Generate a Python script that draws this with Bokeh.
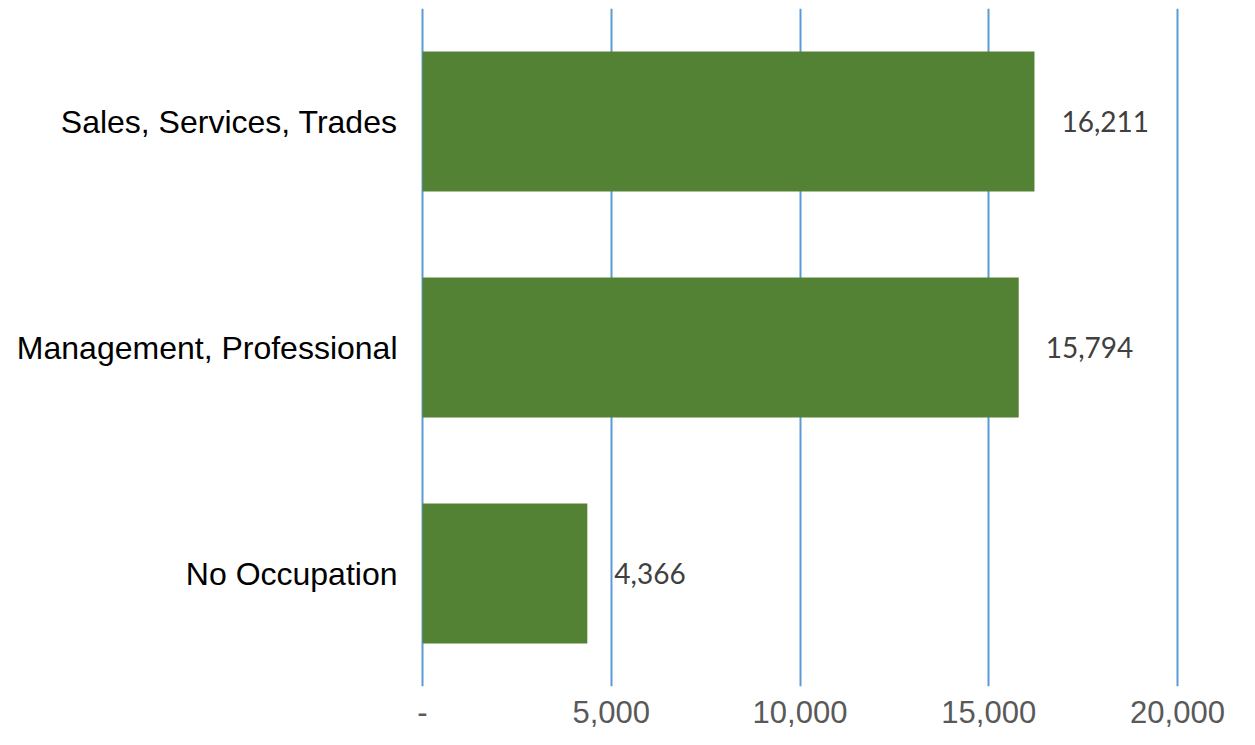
from bokeh.plotting import figure
from bokeh.models import ColumnDataSource, FactorRange, Range1d, FixedTicker
from bokeh.core.properties import value
from bokeh.embed import file_html
from bokeh.resources import INLINE

# Data (bottom to top)
categories = ["No Occupation", "Management, Professional", "Sales, Services, Trades"]
counts = [4366, 15794, 16211]
tick_values = [0, 5000, 10000, 15000, 20000]
tick_labels = ["-", "5,000", "10,000", "15,000", "20,000"]

labels = [f"{v:,}" for v in counts]
src = ColumnDataSource(dict(cat=categories, val=counts, lab=labels))

W, H = 1247, 737
left_border = 420
frame_bottom = 686
px_per_unit = 188.75 / 5000.0
x_start = -2 / px_per_unit
x_end = x_start + (W - left_border) / px_per_unit

p = figure(width=W, height=H, output_backend="svg", toolbar_location=None,
           y_range=FactorRange(factors=categories, range_padding=0),
           x_range=Range1d(x_start, x_end),
           min_border_left=left_border, min_border_right=0,
           min_border_top=8, min_border_bottom=H - frame_bottom)
p.background_fill_color = "white"
p.border_fill_color = "white"
p.outline_line_color = None

p.hbar(y="cat", right="val", left=0, height=0.62, source=src,
       fill_color="#548235", line_color=None)

p.text(x="val", y="cat", text="lab", source=src, x_offset=27,
       text_baseline="middle", text_align="left",
       text_font=value("Lato"), text_font_size="28px", text_color="#404040")

p.xaxis.ticker = FixedTicker(ticks=tick_values)
p.xaxis.major_label_overrides = {t: l for t, l in zip(tick_values, tick_labels)}
p.xaxis.axis_line_color = None
p.xaxis.major_tick_line_color = None
p.xaxis.minor_tick_line_color = None
p.xaxis.major_label_text_font = "Liberation Sans"
p.xaxis.major_label_text_font_size = "31px"
p.xaxis.major_label_text_color = "#595959"
p.xaxis.major_label_standoff = 8

p.yaxis.axis_line_color = None
p.yaxis.major_tick_line_color = None
p.yaxis.minor_tick_line_color = None
p.yaxis.major_label_text_font = "Liberation Sans"
p.yaxis.major_label_text_font_size = "32px"
p.yaxis.major_label_text_color = "black"
p.yaxis.major_label_standoff = 17

p.ygrid.grid_line_color = None
p.xgrid.ticker = FixedTicker(ticks=tick_values)
p.xgrid.grid_line_color = "#5B9BD5"
p.xgrid.grid_line_width = 2

open("out.html", "w").write(file_html(p, INLINE))
